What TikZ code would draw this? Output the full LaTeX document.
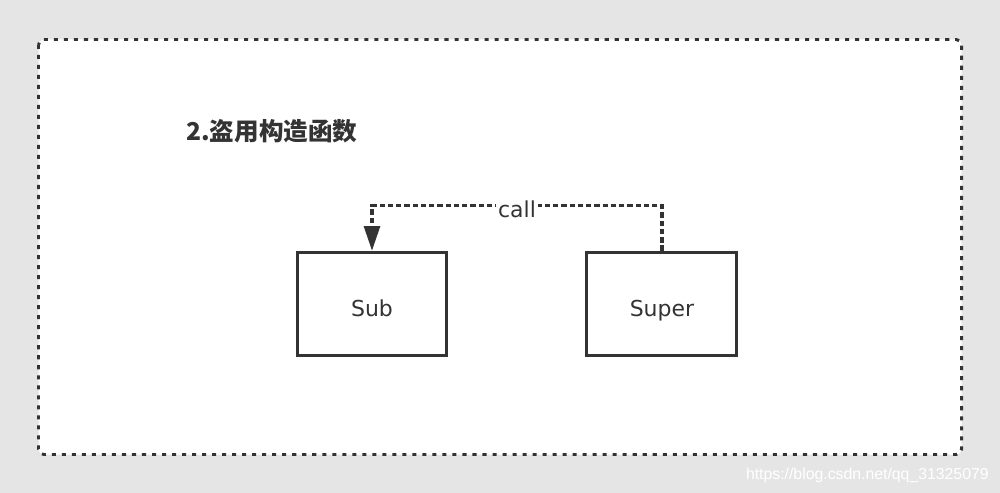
\documentclass[tikz,border=0pt]{standalone}
\usepackage{fontspec}
\setmainfont{DejaVu Sans}
\newfontfamily\cjk{Noto Sans CJK SC}
\newfontfamily\marque{Liberation Sans}
\usepackage{xcolor}
\usetikzlibrary{positioning}
\usetikzlibrary{arrows.meta,calc}

\definecolor{fond}{HTML}{E5E5E5}
\definecolor{trait}{HTML}{333333}

\begin{document}
\begin{tikzpicture} [
  x = 0.02cm, y = -0.02cm,
  auto,
  cadre/.style = {draw=trait, fill=white, line width = 1.7pt, rounded corners = 3pt,
                  dash pattern = on 2.3pt off 3.4pt},
  boite/.style = {rectangle, draw=trait, line width = 1.7pt, inner sep = 0pt,
                  minimum width = 3cm, minimum height = 2.07cm,
                  text height = 14.6pt, text depth = 0pt,
                  text = trait, font = \fontsize{12.5}{15}\selectfont},
  line/.style = {draw=trait, line width = 1.8pt, dash pattern = on 3pt off 1.7pt,
                 -{Triangle[length = 14pt, width = 9pt]}},
]

 % fond et cadre
 \fill [fond] (0,0) rectangle (1000,493);
 \path [cadre] (38.5,39.5) rectangle (961.5,454.5);

 \node [anchor = west, inner sep = 0pt, text = trait, font = \cjk\bfseries\fontsize{14}{16}\selectfont] (titre) at (186,131) {2.盗用构造函数};

 \node [boite] (sub) at (372,304) {Sub};
 \node [boite, right = 2.74cm of sub] (super) {Super};

 \path [line] (super.north) -- ++(0,-45) -| (sub.north)
   node [pos = 0.25, auto = false, fill = white, inner sep = 1pt, text = trait, yshift = -2pt,
         font = \fontsize{12.5}{15}\selectfont] (appel) {call};

 \node [anchor = east, inner sep = 0pt, text = white, font = \marque\fontsize{9}{11}\selectfont] (url) at (989,475) {https://blog.csdn.net/qq\_31325079};

\end{tikzpicture}
\end{document}
